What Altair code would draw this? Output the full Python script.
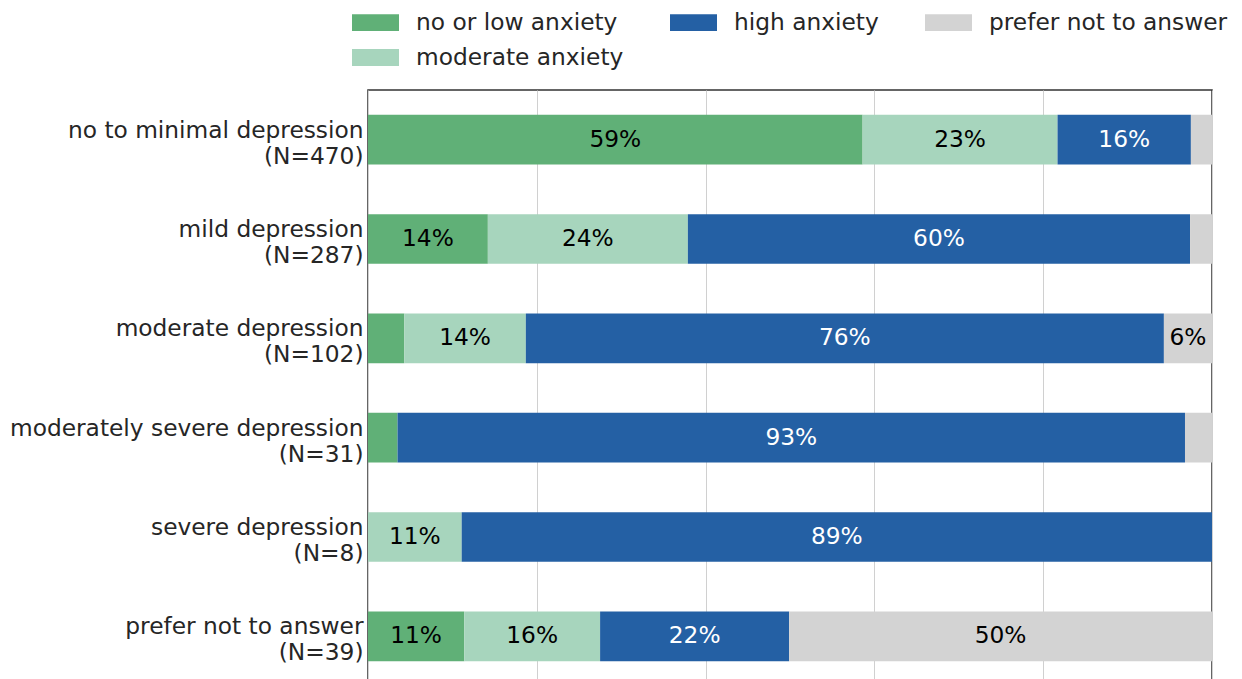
import altair as alt
import pandas as pd

categories = ["no to minimal depression", "mild depression", "moderate depression",
              "moderately severe depression", "severe depression", "prefer not to answer"]
counts = [470, 287, 102, 31, 8, 39]
anxiety_levels = ["no or low anxiety", "moderate anxiety", "high anxiety", "prefer not to answer"]
low_anx = [58.6, 14.2, 4.3, 3.5, 0.0, 11.4]
moderate_anx = [23.1, 23.7, 14.4, 0.0, 11.1, 16.1]
high_anx = [15.8, 59.5, 75.6, 93.3, 88.9, 22.4]
prefer_anx = [2.5, 2.6, 5.7, 3.2, 0.0, 50.1]
colors = {"no or low anxiety": "#60b077", "moderate anxiety": "#a7d5bd",
          "high anxiety": "#2460a4", "prefer not to answer": "#d3d3d3"}
legend_order = ["no or low anxiety", "prefer not to answer", "high anxiety", "moderate anxiety"]

series = [low_anx, moderate_anx, high_anx, prefer_anx]
labels = [f"{c}|(N={n})" for c, n in zip(categories, counts)]
rows = []
for i, lab in enumerate(labels):
    for k, lvl in enumerate(anxiety_levels):
        rows.append({"label": lab, "anxiety": lvl, "value": series[k][i], "ord": k})
df = pd.DataFrame(rows)

FONT = "DejaVu Sans"
FS = 23.3

base = alt.Chart(df).transform_stack(
    stack="value", groupby=["label"], sort=[alt.SortField("ord")], as_=["x0", "x1"]
).transform_calculate(mid="(datum.x0 + datum.x1) / 2")

y_enc = alt.Y("label:N", sort=labels, title=None,
              scale=alt.Scale(paddingInner=0.5, paddingOuter=0.25),
              axis=alt.Axis(labelExpr="split(datum.label, '|')", domain=False, ticks=False,
                            labelFontSize=FS, labelFont=FONT, labelColor="#262626",
                            labelPadding=5, labelLineHeight=26, labelLimit=0,
                            labelAlign="right", labelBaseline="middle", labelOffset=-9))

bars = base.mark_bar(stroke=None).encode(
    x=alt.X("x0:Q", scale=alt.Scale(domain=[0, 100], nice=False, zero=True),
            axis=alt.Axis(values=[0, 20, 40, 60, 80, 100], labels=False, ticks=False,
                          domain=False, grid=True, gridColor="#d0d0d0", gridWidth=1,
                          title=None)),
    x2="x1:Q",
    y=y_enc,
    color=alt.Color("anxiety:N",
                    scale=alt.Scale(domain=legend_order, range=[colors[a] for a in legend_order]),
                    legend=alt.Legend(title=None, orient="none", legendX=-16, legendY=-91,
                                      columns=3, columnPadding=46, rowPadding=-4,
                                      symbolType="M-1,-0.36H1V0.36H-1Z", symbolSize=2209,
                                      symbolStrokeWidth=0, symbolOpacity=1,
                                      labelFontSize=FS, labelFont=FONT, labelColor="#262626",
                                      labelOffset=17, padding=0, labelLimit=0)),
)

texts = base.transform_filter("datum.value >= 5").transform_calculate(
    txt="format(datum.value, '.0f') + '%'"
).mark_text(font=FONT, fontSize=FS, baseline="middle", align="center").encode(
    x="mid:Q",
    y=alt.Y("label:N", sort=labels),
    text="txt:N",
    color=alt.condition("datum.anxiety == 'high anxiety'", alt.value("white"), alt.value("black")),
)

chart = alt.layer(bars, texts).properties(
    width=844, height=596,
    autosize=alt.AutoSizeParams(type="none"),
    padding={"left": 360, "top": 82, "right": 22, "bottom": 0},
).configure_view(stroke="#333333", strokeWidth=1.5)

chart.save("out.html", embed_options={"renderer": "svg", "actions": False})
